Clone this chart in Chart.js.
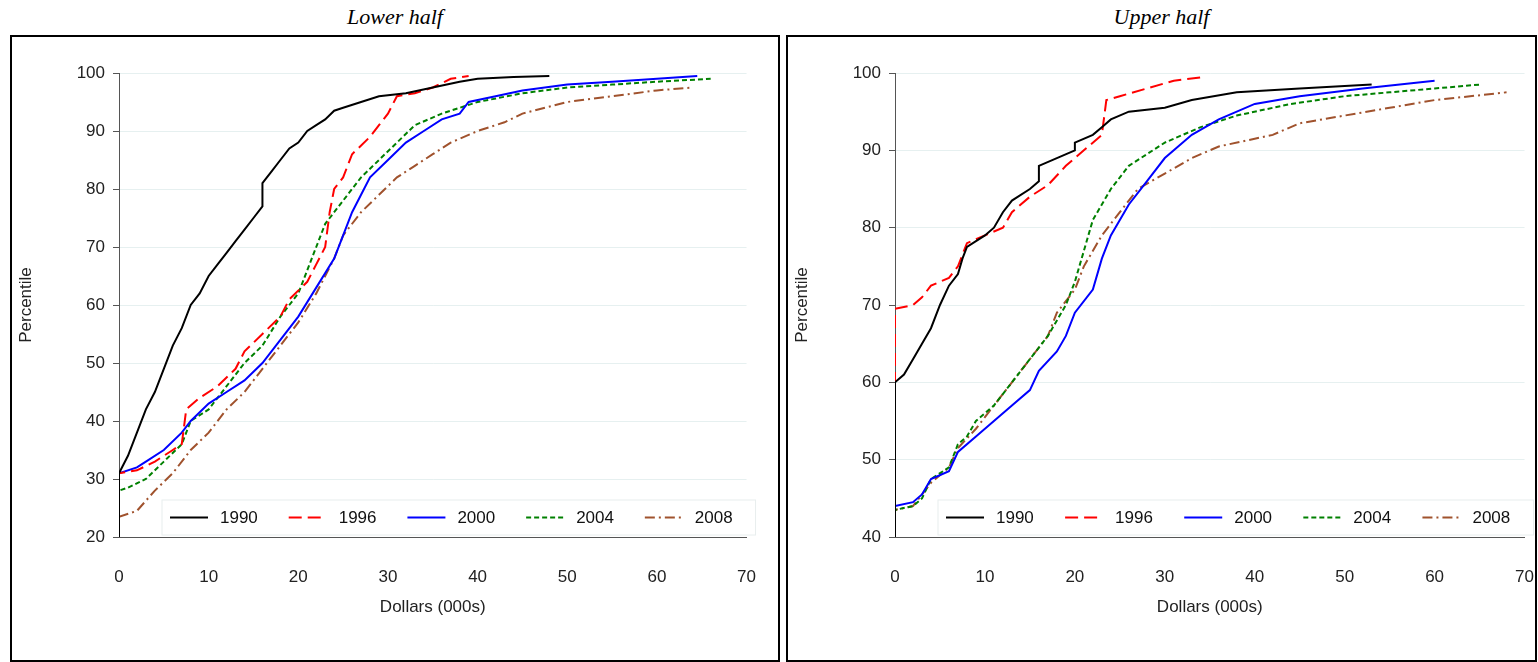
<!DOCTYPE html>
<html>
<head>
<meta charset="utf-8">
<script src="https://cdn.jsdelivr.net/npm/chart.js@4"></script>
<style>
  body { margin: 0; background: #fff; width: 1538px; height: 662px; overflow: hidden; font-family: Arial, "Liberation Sans", sans-serif; }
  .panel { position: absolute; top: 0; }
  .title { position: absolute; top: 4px; left: 0; right: 0; text-align: center; font: italic 22px "Liberation Serif", "Times New Roman", serif; }
  .box { position: absolute; top: 35px; border: 2px solid #000; box-sizing: border-box; overflow: hidden; }
</style>
</head>
<body>
<div class="panel" style="left:10px;width:770px;height:662px">
  <div class="title">Lower half</div>
  <div class="box" style="left:0;width:770px;height:627px"><canvas id="lower"></canvas></div>
</div>
<div class="panel" style="left:786px;width:751px;height:662px">
  <div class="title">Upper half</div>
  <div class="box" style="left:0;width:751px;height:627px"><canvas id="upper"></canvas></div>
</div>
<script>
const years = ['1990', '1996', '2000', '2004', '2008'];
const colors = ['#000000', '#ff0000', '#0000ff', '#008000', '#a0522d'];
const dashes = [[], [13, 6], [], [5, 3], [10, 4, 2, 4]];

// Lower half: [dollars (000s), percentile]
const lower1990 = [[0,20],[0,31],[1,34],[2,38],[3,42],[4,45],[5,49],[6,53],[7,56],[8,60],[9,62],[10,65],[11,67],[12,69],[13,71],[14,73],[15,75],[16,77],[16,81],[17,83],[18,85],[19,87],[20,88],[21,90],[22,91],[23,92],[24,93.5],[25,94],[27,95],[29,96],[32,96.5],[35,97.5],[38,98.5],[40,99],[44,99.3],[48,99.5]];
const lower1996 = [[0,20],[0,31],[2,31.5],[4,33],[6,35],[7,36],[7.5,42],[9,44],[11,46],[13,49],[14,52],[16,55],[18,58],[19,61],[21,64],[22,67],[23,70],[23.5,76],[24,80],[25,82],[26,86],[28,89],[29,91],[30,93],[31,96],[33,96.5],[35,97.5],[37,99],[39,99.5]];
const lower2000 = [[0,20],[0,31],[2,32],[3,33],[5,35],[7,38],[8,40],[10,43],[12,45],[14,47],[16,50],[18,54],[20,58],[22,63],[24,68],[25,72],[26,76],[27,79],[28,82],[30,85],[32,88],[34,90],[36,92],[38,93],[39,95],[42,96],[45,97],[50,98],[55,98.5],[60,99],[64.5,99.5]];
const lower2004 = [[0,20],[0,28],[1,28.5],[3,30],[5,33],[7,36],[8,40],[10,42],[12,46],[14,50],[16,53],[18,58],[20,62],[21,66],[22,70],[23,74],[24,76],[25,78],[27,82],[29,85],[31,88],[33,91],[36,93],[40,95],[45,96.5],[50,97.5],[55,98],[60,98.5],[66,99]];
const lower2008 = [[0,20],[0,23.5],[2,24.5],[4,28],[6,31],[8,35],[10,38],[12,42],[14,45],[16,49],[18,53],[20,57],[22,62],[24,68],[25,72],[27,76],[29,79],[31,82],[33,84],[35,86],[37,88],[40,90],[43,91.5],[45,93],[50,95],[55,96],[60,97],[64,97.5]];

// Upper half
const upper1990 = [[0,40],[0,60],[1,61],[2,63],[3,65],[4,67],[5,70],[6,72.5],[7,74],[7.5,76],[8,77.5],[10,79],[11,80],[12,82],[13,83.5],[15,85],[16,86],[16,88],[18,89],[20,90],[20,91],[22,92],[23,93],[24,94],[26,95],[30,95.5],[33,96.5],[38,97.5],[45,98],[53,98.5]];
const upper1996 = [[0,40],[0,69.5],[2,70],[3,71],[4,72.5],[6,73.5],[7,75],[8,78],[10,79],[12,80],[13,82],[15,84],[17,85.5],[19,88],[21,90],[23,92],[23.5,96.5],[25,97],[28,98],[31,99],[34.5,99.5]];
const upper2000 = [[0,40],[0,44],[2,44.5],[3,45.5],[4,47.5],[6,48.5],[7,51],[9,53],[11,55],[13,57],[15,59],[16,61.5],[18,64],[19,66],[20,69],[22,72],[23,76],[24,79],[26,83],[28,86],[30,89],[33,92],[36,94],[40,96],[45,97],[52,98],[60,99]];
const upper2004 = [[0,40],[0,43.5],[2,44],[3,45],[4,47.5],[6,49],[7,52],[8,53],[9,55],[11,57],[13,60],[15,63],[17,66],[18,68],[19,70],[20,73],[21,77],[22,81],[24,85],[26,88],[30,91],[34,93],[38,94.5],[44,96],[50,97],[55,97.5],[60,98],[65,98.5]];
const upper2008 = [[0,40],[0,43.5],[2,44],[4,47],[6,49],[7,51.5],[9,54],[11,57],[13,60],[15,63],[17,66],[18,69],[20,72],[21,75],[23,79],[25,82],[27,85],[30,87],[33,89],[36,90.5],[40,91.5],[42,92],[45,93.5],[50,94.5],[55,95.5],[60,96.5],[68,97.5]];

const legendBox = {
    id: 'legendBox',
    afterDraw(chart) {
        const ctx = chart.ctx;
        const a = chart.chartArea;
        const x0 = a.left + 43, y0 = a.bottom - 37, w = a.right - a.left - 34, h = 35;
        ctx.save();
        ctx.fillStyle = '#fff';
        ctx.strokeStyle = '#e8eeee';
        ctx.lineWidth = 1;
        ctx.fillRect(x0, y0, w, h);
        ctx.strokeRect(x0, y0, w, h);
        const step = w / 5;
        ctx.font = '17px Arial, "Liberation Sans", sans-serif';
        ctx.textBaseline = 'middle';
        chart.data.datasets.forEach((ds, i) => {
            const lx = x0 + 8 + i * step;
            const ly = y0 + h / 2;
            ctx.strokeStyle = ds.borderColor;
            ctx.lineWidth = 2;
            ctx.setLineDash(ds.borderDash);
            ctx.beginPath();
            ctx.moveTo(lx, ly);
            ctx.lineTo(lx + 38, ly);
            ctx.stroke();
            ctx.setLineDash([]);
            ctx.fillStyle = '#111';
            ctx.fillText(ds.label, lx + 50, ly + 1);
        });
        ctx.restore();
    }
};

function makeChart(id, series, ymin, yright) {
    new Chart(document.getElementById(id), {
        type: 'line',
        data: {
            datasets: series.map((s, i) => ({
                label: years[i],
                data: s.map(p => ({ x: p[0], y: p[1] })),
                borderColor: colors[i],
                borderDash: dashes[i],
                borderWidth: 2,
                pointRadius: 0,
                tension: 0,
                fill: false
            }))
        },
        options: {
            responsive: false,
            animation: false,
            devicePixelRatio: 1,
            layout: { padding: { top: 36, right: yright, left: 0, bottom: 38 } },
            plugins: { legend: { display: false }, tooltip: { enabled: false } },
            scales: {
                x: {
                    type: 'linear', min: 0, max: 70,
                    ticks: { stepSize: 10, color: '#222', font: { size: 17 }, padding: 22 },
                    grid: { display: false },
                    border: { color: '#555' },
                    title: { display: true, text: 'Dollars (000s)', color: '#222', font: { size: 17 }, padding: { top: 12 } },
                    afterFit: axis => { axis.height = 85; }
                },
                y: {
                    min: ymin, max: 100,
                    ticks: { stepSize: 10, color: '#222', font: { size: 17 }, padding: 8 },
                    grid: { color: '#e6f0f0', tickColor: '#555', tickLength: 6 },
                    border: { color: '#555' },
                    title: { display: true, text: 'Percentile', color: '#222', font: { size: 17 }, padding: { bottom: 10 } },
                    afterFit: axis => { axis.width = 107; }
                }
            }
        },
        plugins: [legendBox]
    });
}

const lc = document.getElementById('lower'); lc.width = 766; lc.height = 623;
const uc = document.getElementById('upper'); uc.width = 768; uc.height = 623;
makeChart('lower', [lower1990, lower1996, lower2000, lower2004, lower2008], 20, 27);
makeChart('upper', [upper1990, upper1996, upper2000, upper2004, upper2008], 40, 0);
</script>
</body>
</html>
